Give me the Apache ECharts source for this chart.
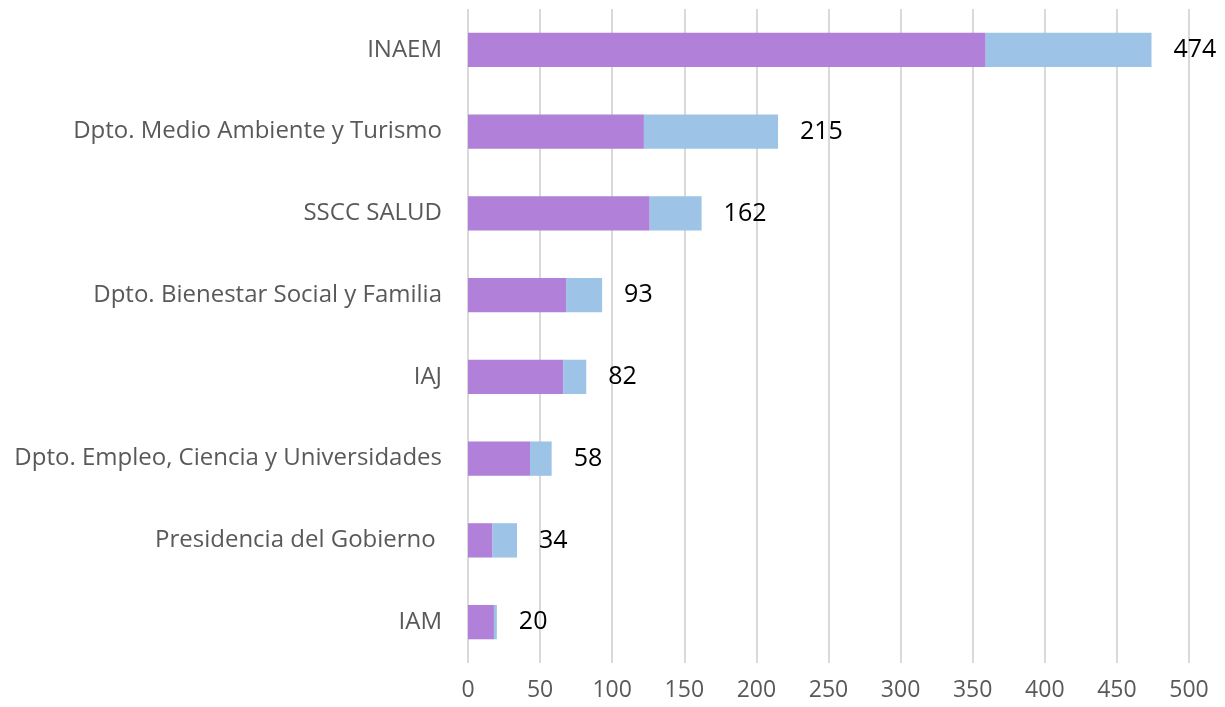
<!DOCTYPE html>
<html>
<head>
<meta charset="utf-8">
<script src="https://cdn.jsdelivr.net/npm/echarts@6/dist/echarts.min.js"></script>
<style>
  html, body { margin: 0; padding: 0; background: #fff; }
  #chart { width: 1225px; height: 707px; }
</style>
</head>
<body>
<div id="chart"></div>
<script>
// categorias, de arriba hacia abajo (eje de categorias invertido con inverse)
const categories = [
  'INAEM',
  'Dpto. Medio Ambiente y Turismo',
  'SSCC SALUD',
  'Dpto. Bienestar Social y Familia',
  'IAJ',
  'Dpto. Empleo, Ciencia y Universidades',
  'Presidencia del Gobierno ',
  'IAM'
];
const serieMorada = [359, 122, 126, 68, 66, 43, 17, 18];
const serieAzul = [115, 93, 36, 25, 16, 15, 17, 2];
const totales = [474, 215, 162, 93, 82, 58, 34, 20];
const ticksX = [0, 50, 100, 150, 200, 250, 300, 350, 400, 450, 500];

const myChart = echarts.init(document.getElementById('chart'));

const options = {
  animation: false,
  textStyle: { fontFamily: 'Open Sans' },
  grid: { left: 468, right: 36, top: 9, bottom: 44, containLabel: false },
  xAxis: {
    type: 'value',
    min: ticksX[0],
    max: ticksX[ticksX.length - 1],
    interval: 50,
    axisLine: { show: false },
    axisTick: { show: false },
    splitLine: { show: true, lineStyle: { color: '#d9d9d9', width: 2 } },
    axisLabel: { color: '#595959', fontSize: 23, margin: 16, fontFamily: 'Open Sans' }
  },
  yAxis: {
    type: 'category',
    data: categories,
    inverse: true,
    axisLine: { show: false },
    axisTick: { show: false },
    axisLabel: { color: '#595959', fontSize: 24, margin: 26, fontFamily: 'Open Sans' }
  },
  series: [
    {
      type: 'bar',
      stack: 'total',
      data: serieMorada,
      barCategoryGap: '58%',
      itemStyle: { color: '#b180d8' }
    },
    {
      type: 'bar',
      stack: 'total',
      data: serieAzul,
      itemStyle: { color: '#9dc3e6' },
      label: {
        show: true,
        position: 'right',
        distance: 22,
        color: '#000',
        fontSize: 25,
        fontFamily: 'Open Sans',
        formatter: p => totales[p.dataIndex]
      }
    }
  ]
};

myChart.setOption(options);
window.addEventListener('resize', () => myChart.resize());
</script>
</body>
</html>
